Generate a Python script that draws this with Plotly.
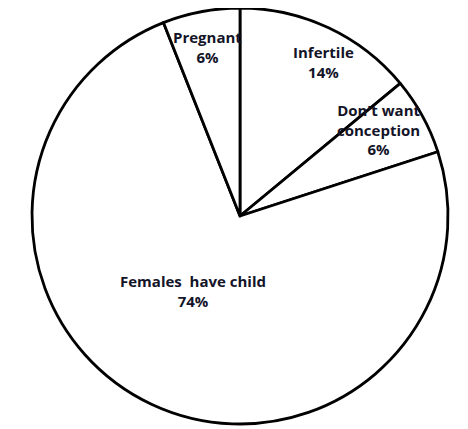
import plotly.graph_objects as go

labels = ["Infertile", "Don't want<br>conception", "Females  have child", "Pregnant"]
values = [14, 6, 74, 6]
# label centre positions on the page (px)
label_px = [323, 379, 193, 207]
label_py = [62, 129, 291, 47]

OFF = 8                      # page body margin
W, H = 460, 421
cx, cy, r = 240 - OFF, 216 - OFF, 208

fig = go.Figure(go.Pie(
    labels=labels, values=values, sort=False, direction="clockwise", rotation=0,
    marker=dict(colors=["white"] * 4, line=dict(color="black", width=2.8)),
    textinfo="none", hoverinfo="label+value", showlegend=False,
    domain=dict(x=[(cx - r) / W, (cx + r) / W], y=[(H - cy - r) / H, min(1, (H - cy + r) / H)]),
))

for lab, v, px, py in zip(labels, values, label_px, label_py):
    fig.add_annotation(x=(px - OFF) / W, y=1 - (py - OFF) / H, xref="paper", yref="paper",
                       xanchor="center", yanchor="middle", showarrow=False,
                       text=f"<b>{lab}<br>{v}%</b>", align="center",
                       font=dict(family="Open Sans", size=15, color="#141428"))

fig.update_layout(width=W, height=H, margin=dict(l=0, r=0, t=0, b=0),
                  paper_bgcolor="white", plot_bgcolor="white")
fig.write_html("out.html")
